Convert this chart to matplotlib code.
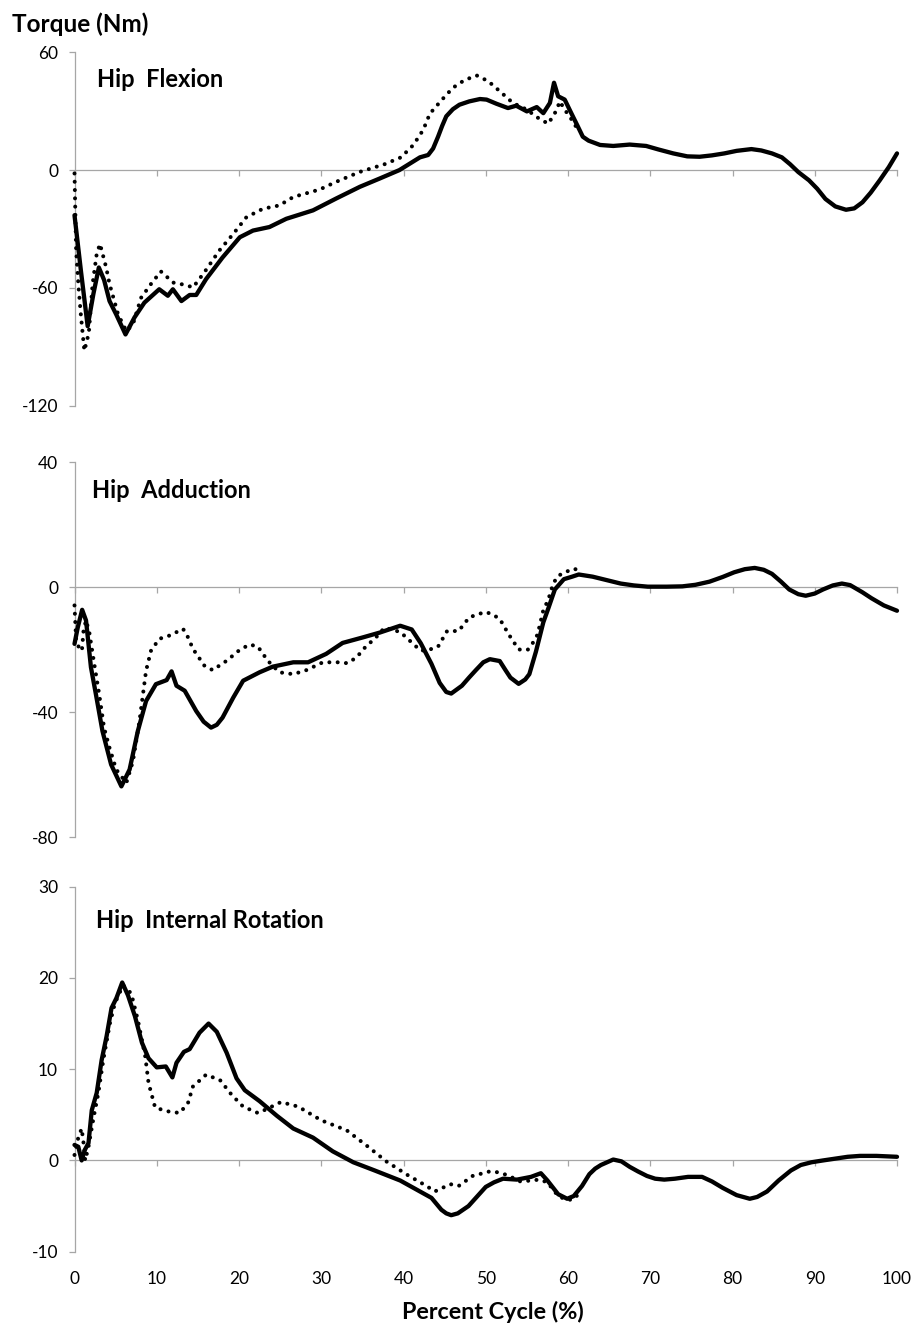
import matplotlib
matplotlib.use("Agg")
import matplotlib.pyplot as plt

plt.rcParams["font.family"] = ["Lato", "DejaVu Sans"]
plt.rcParams["axes.unicode_minus"] = False

# ---- data: percent of cycle and hip torque (Nm) ----
flex_solid_x = [0, 0.8, 1.6, 2.3, 2.96, 3.6, 4.26, 5.07, 6.2, 7.3, 8.5, 10.3, 11.35,
                11.96, 13, 14, 14.8, 16, 18, 20.1, 21.7, 23.7, 25.75, 29, 31.8, 34.7,
                37.1, 39.5, 42, 43, 43.6, 44.2, 44.7, 45.2, 46, 46.8, 48, 49.3, 50.1,
                51.3, 52.7, 53.7, 55, 56.2, 57, 57.8, 58.3, 58.8, 59.6, 60.4, 61.2, 61.8,
                62.5, 63.9, 65.5, 67.5, 69.5, 71, 72.8, 74.5, 76, 77.5, 79, 80.5, 82.3,
                83.5, 84.8, 86, 87, 88, 89.3, 90.3, 91.3, 92.5, 93.8, 94.8, 95.8, 96.8,
                97.9, 99, 100]
flex_solid_y = [-23, -52, -79.5, -63, -49.6, -56, -66.7, -73.5, -83.7, -75, -67.5, -60.7,
                -64, -60.7, -66.7, -63.6, -63.6, -55.5, -44.5, -34.2, -30.8, -29, -24.8,
                -20.5, -14.5, -8.5, -4.3, 0, 6.5, 7.7, 11, 17, 22.5, 27.4, 31, 33.3, 35,
                36.2, 35.9, 33.8, 31.6, 32.8, 29.9, 32.1, 29, 34.2, 44.5, 37.6, 35.9, 29,
                22.2, 17, 15, 12.8, 12.3, 13, 12.3, 10.5, 8.5, 7, 6.8, 7.5, 8.5, 9.8,
                10.7, 10, 8.5, 6.5, 3, -1, -5.2, -9.5, -14.7, -18.5, -20.2, -19.5, -16.4,
                -11.5, -5.2, 1.5, 8.5]

flex_dot_x = [0, 0.2, 0.5, 0.8, 1.2, 1.74, 2.2, 2.7, 3.1, 3.85, 4.26, 5.3, 6.3, 7.1, 8.1,
              9.3, 10.5, 12, 13.6, 14.4, 15.8, 17.6, 19.3, 20.9, 22.9, 24.9, 26.6, 29.8,
              31.8, 34.7, 37.7, 39.7, 41.2, 42.4, 43.2, 44.6, 46, 47.4, 48.9, 50.3, 51.7,
              53.3, 55, 56.2, 57.6, 58.6, 59, 59.6, 60.6, 61.2]
flex_dot_y = [-1.7, -41, -60, -75, -92, -83, -58, -42.7, -37.6, -49.6, -58, -73.5, -82,
              -78.6, -65, -58, -51.6, -57.3, -58.6, -59.8, -52, -41, -32.5, -24, -19.7,
              -18, -13.7, -9.9, -6, -0.9, 3, 6.5, 12.8, 20.5, 28.7, 35.5, 41.9, 45.8, 48.2,
              45.3, 40.2, 34.2, 30.8, 27, 23.6, 30.4, 35, 30.8, 24.8, 20.5]

add_solid_x = [0, 0.4, 0.93, 1.4, 2.0, 2.6, 3.4, 4.45, 5.7, 6.7, 7.7, 8.7, 9.9, 11.2,
               11.8, 12.4, 13.4, 14.8, 15.7, 16.6, 17.3, 18, 19.3, 20.5, 22.5, 24.1, 26.6,
               28.4, 30.6, 32.6, 35.1, 37.1, 39.6, 41, 42.1, 43.4, 44.4, 45.2, 45.8, 47.1,
               48, 48.8, 49.7, 50.5, 51.7, 52.4, 53, 54, 54.8, 55.3, 56.1, 57, 57.6, 58.4,
               59.5, 60.5, 61.3, 63, 64.7, 66.4, 68, 69.7, 72, 73.9, 75.5, 77.2, 78.8,
               80.2, 81.5, 82.7, 83.8, 84.8, 85.9, 86.9, 88, 88.9, 90, 91, 92.2, 93.3,
               94.3, 95.8, 96.9, 98.4, 100]
add_solid_y = [-18.1, -12.8, -7.2, -10.6, -25.6, -34.2, -46, -56.7, -63.7, -58.3, -46,
               -36.4, -31, -29.7, -26.9, -31.5, -33.1, -39.6, -43, -44.9, -44, -41.7,
               -35.3, -29.9, -27.2, -25.4, -24, -24, -21.3, -17.8, -16, -14.5, -12.3,
               -13.5, -17.9, -24.5, -30.6, -33.5, -34, -31.5, -28.8, -26.5, -24, -23,
               -23.6, -26.5, -28.9, -30.9, -29.5, -27.8, -20.6, -11.2, -6.8, -0.7, 2.6,
               3.4, 4.1, 3.4, 2.3, 1.2, 0.6, 0.2, 0.2, 0.3, 0.8, 1.8, 3.3, 4.8, 5.8, 6.2,
               5.6, 4.3, 1.8, -0.7, -2.2, -2.7, -2, -0.7, 0.6, 1.2, 0.7, -1.6, -3.5, -5.8,
               -7.5]

add_dot_x = [0, 0.2, 0.6, 0.9, 1.1, 1.4, 1.8, 2.4, 3.0, 3.6, 4.26, 5.07, 6.3, 7.1, 7.9,
             8.7, 9.3, 10.3, 11.6, 13.2, 13.8, 14.4, 15.8, 16.8, 18.5, 20.1, 21.3, 22.3,
             23.5, 24.9, 26.6, 28.2, 30.2, 32.2, 33.2, 34.3, 35.5, 36.5, 37.7, 39.6, 40.4,
             41.3, 42.1, 43.2, 44.2, 45.3, 46.7, 48, 49.9, 50.7, 51.7, 52.8, 54, 55.1,
             55.7, 56.3, 57, 57.6, 58.2, 58.8, 59.7, 60.5, 61.6]
add_dot_y = [-5.8, -17, -19.7, -20.3, -13.8, -10.6, -14.4, -24.5, -34.2, -45, -51.4,
             -58.3, -62.6, -55.7, -42.8, -26.7, -20.3, -16.5, -15.4, -13.3, -16, -19.7,
             -25.1, -26.5, -23.5, -20, -18.3, -19, -23.5, -27.2, -27.8, -26.5, -24, -24,
             -24.3, -22.4, -18.7, -16.5, -12.9, -14.3, -16.2, -18.4, -20.3, -19.9, -19,
             -14, -14, -9.6, -7.9, -8.5, -10.1, -15.1, -19.9, -20, -17.9, -15.1, -7.3,
             -4, 1.2, 3.7, 4.8, 5.9, 5.6]

rot_solid_x = [0, 0.46, 0.87, 1.28, 1.7, 2.1, 2.7, 3.3, 3.9, 4.5, 5.1, 5.8, 6.5, 7.35,
               8.2, 9.0, 10, 11.1, 11.9, 12.4, 13.3, 14.0, 15.2, 16.3, 17.3, 18.5, 19.7,
               20.7, 22.5, 24.6, 26.6, 29, 31.4, 33.9, 36.5, 39.6, 42, 43.4, 44.6, 45.2,
               45.8, 46.6, 47.9, 49, 50, 51, 52.1, 53.8, 55.5, 56.7, 57.5, 58.8, 59.9,
               60.7, 61.7, 62.6, 63.3, 64, 65.5, 66.5, 67.5, 68.5, 69.6, 70.6, 71.7, 73,
               74.6, 76.3, 77.5, 78.8, 80.5, 82.1, 83, 84.2, 85.6, 87.1, 88.3, 89.6, 91,
               92.5, 94, 95.5, 97.5, 100]
rot_solid_y = [1.7, 1.5, 0, 1.2, 1.9, 5.5, 7.4, 11, 13.6, 16.7, 17.8, 19.5, 18.1, 15.8,
               12.9, 11.2, 10.2, 10.3, 9.1, 10.7, 11.9, 12.2, 14, 15, 14.1, 11.8, 9, 7.7,
               6.5, 4.9, 3.5, 2.5, 1, -0.2, -1.1, -2.2, -3.4, -4.1, -5.4, -5.8, -6, -5.8,
               -5.0, -3.9, -2.9, -2.4, -2.0, -2.1, -1.8, -1.4, -2.2, -3.7, -4.2, -3.9,
               -2.8, -1.5, -0.9, -0.5, 0.1, -0.1, -0.7, -1.2, -1.7, -2, -2.1, -2, -1.8,
               -1.8, -2.3, -3, -3.8, -4.2, -4, -3.4, -2.2, -1.1, -0.5, -0.2, 0, 0.2, 0.4,
               0.5, 0.5, 0.4]

rot_dot_x = [0, 0.46, 0.87, 1.1, 1.3, 1.7, 2.3, 2.9, 3.5, 4.3, 4.9, 5.9, 6.9, 7.7, 8.6,
             9.0, 9.8, 11.2, 12.8, 13.8, 14.4, 16.0, 17.7, 19.1, 20.5, 22.3, 23.3, 25.1,
             27.2, 30, 33.1, 35.7, 37.9, 40.5, 42.8, 43.8, 45.7, 46.7, 48.4, 50.5, 51.5,
             52.6, 54.2, 55.5, 56.5, 57.5, 58.8, 59.8, 60.6, 61.7]
rot_dot_y = [0.6, 2.5, 3.5, 1.9, 0, 1.5, 4.6, 7.4, 11, 15, 17.2, 19.2, 18.3, 15.4, 11.4,
             8.5, 5.8, 5.4, 5.2, 6.3, 8.1, 9.4, 8.8, 7.2, 5.9, 5.2, 5.6, 6.4, 5.9, 4.4,
             3.3, 1.5, -0.1, -1.6, -2.8, -3.4, -2.6, -2.8, -1.7, -1.2, -1.3, -1.6, -2.3,
             -2.2, -2.1, -2.4, -3.9, -4.3, -4.3, -3.3]

panel_titles = ["Hip  Flexion", "Hip  Adduction", "Hip  Internal Rotation"]
y_limits = [(-120, 60), (-80, 40), (-10, 30)]
y_ticks = [[-120, -60, 0, 60], [-80, -40, 0, 40], [-10, 0, 10, 20, 30]]
x_ticks = list(range(0, 101, 10))

# ---- layout (pixels of a 917 x 1328 canvas) ----
W, H = 917, 1328
fig = plt.figure(figsize=(W / 100, H / 100), dpi=100)

AXIS_GREY = "#a6a6a6"
x_left, x_right = 74.5, 897
panel_px = [(52.3, 405.7), (462.3, 837.3), (886.7, 1251.7)]
title_px = [(97, 87.3), (92, 498.3), (96, 928.3)]

series = [
    (flex_solid_x, flex_solid_y, flex_dot_x, flex_dot_y),
    (add_solid_x, add_solid_y, add_dot_x, add_dot_y),
    (rot_solid_x, rot_solid_y, rot_dot_x, rot_dot_y),
]

for i, (top, bot) in enumerate(panel_px):
    ax = fig.add_axes([x_left / W, 1 - bot / H, (x_right - x_left) / W, (bot - top) / H])
    sx, sy, dx, dy = series[i]
    ax.plot(dx, dy, color="black", lw=2.9, linestyle=(0, (0.01, 2.05)),
            dash_capstyle="round", zorder=3, clip_on=False)
    ax.plot(sx, sy, color="black", lw=3.1, solid_joinstyle="round",
            solid_capstyle="round", zorder=4, clip_on=False)

    ax.set_xlim(0, 100)
    ax.set_ylim(*y_limits[i])
    ax.set_yticks(y_ticks[i])
    ax.set_xticks(x_ticks)

    for side in ("top", "right"):
        ax.spines[side].set_visible(False)
    ax.spines["left"].set_color(AXIS_GREY)
    ax.spines["left"].set_linewidth(0.9)
    ax.spines["bottom"].set_position(("data", 0))
    ax.spines["bottom"].set_color(AXIS_GREY)
    ax.spines["bottom"].set_linewidth(0.9)
    ax.spines["bottom"].set_zorder(1)

    ax.tick_params(axis="y", direction="out", length=4.3, width=0.9,
                   color=AXIS_GREY, labelsize=12.5, pad=7.5, labelcolor="black")
    ax.tick_params(axis="x", direction="out", length=4.3, width=0.9,
                   color=AXIS_GREY, labelbottom=False)
    ax.patch.set_visible(False)

    if i == 2:
        sec = ax.secondary_xaxis(0)
        sec.set_xticks(x_ticks)
        sec.spines["bottom"].set_visible(False)
        sec.tick_params(axis="x", length=0, labelsize=12.5, pad=14,
                        labelcolor="black")

    tx, ty = title_px[i]
    fig.text(tx / W, 1 - ty / H, panel_titles[i], fontsize=17, fontweight="bold",
             ha="left", va="baseline")

fig.text(12 / W, 1 - 31.7 / H, "Torque (Nm)", fontsize=17.5, fontweight="bold",
         ha="left", va="baseline")
fig.text(492.5 / W, 1 - 1319 / H, "Percent Cycle (%)", fontsize=16.8,
         fontweight="bold", ha="center", va="baseline")

fig.savefig("out.png", dpi=100, facecolor="white")
